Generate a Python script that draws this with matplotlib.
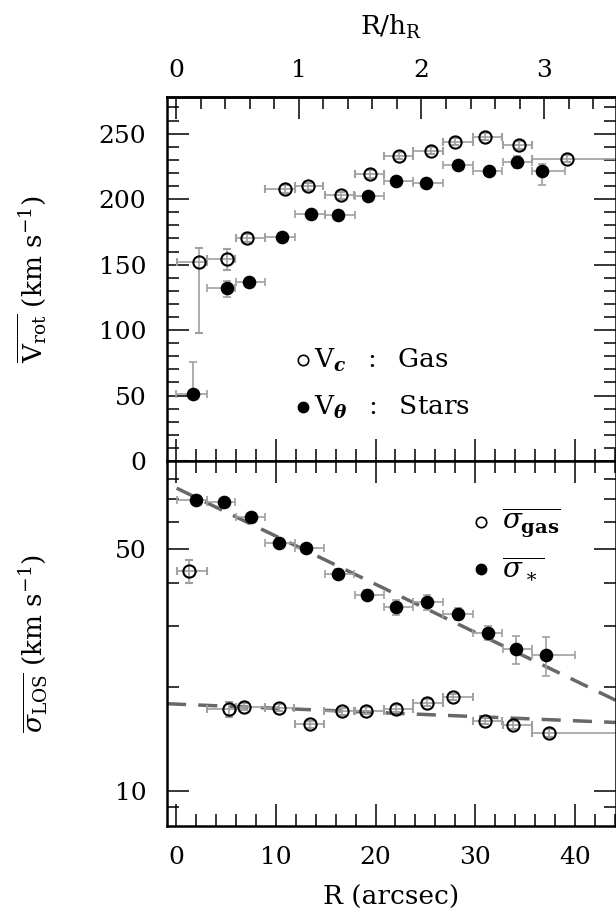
## rotation curve + LOS dispersion, two stacked panels
import matplotlib
matplotlib.use('Agg')
import matplotlib.pyplot as plt
from matplotlib.ticker import FixedLocator, MultipleLocator, NullFormatter, FixedFormatter
import numpy as np

plt.rcParams.update({'font.family': 'DejaVu Serif', 'font.size': 18,
                     'mathtext.fontset': 'custom',
                     'mathtext.rm': 'DejaVu Serif',
                     'mathtext.it': 'DejaVu Serif:italic',
                     'mathtext.bf': 'DejaVu Serif:italic:bold',
                     'mathtext.sf': 'DejaVu Serif:bold'})

h_R = 12.3  # arcsec per disc scale length

# --- top panel: gas circular velocity ---
gas_r = [2.34, 5.15, 7.09, 10.93, 13.27, 16.5, 19.4, 22.37, 25.58, 28.0, 30.93, 34.33, 39.2]
gas_v = [151.7, 154, 170, 207.6, 209.7, 202.8, 219, 233.3, 237.1, 244, 247.8, 241.4, 231]
gas_rlo = [0.07, 3.08, 6.02, 8.9, 11.9, 14.9, 17.9, 20.86, 23.8, 26.8, 29.76, 32.77, 35.67]
gas_rhi = [3.07, 5.92, 8.9, 11.9, 14.77, 17.8, 20.8, 23.8, 26.8, 29.76, 32.67, 35.67, 46]
gas_vlo = [54, 8, 3, 3, 3, 3, 3, 3, 3, 3, 3, 3, 3]
gas_vhi = [11, 8, 3, 3, 3, 3, 3, 3, 3, 3, 3, 3, 3]

# --- top panel: stellar rotation ---
st_r = [1.74, 5.08, 7.35, 10.6, 13.54, 16.28, 19.2, 22.1, 25.1, 28.28, 31.4, 34.17, 36.7]
st_v = [51.5, 132.5, 137, 171, 188.5, 188, 202.5, 213.5, 212, 226, 221.5, 228.5, 221.5]
st_rlo = [0.0, 3.07, 6.0, 8.9, 11.9, 14.9, 17.9, 20.86, 23.8, 26.8, 29.76, 32.77, 35.67]
st_rhi = [3.07, 5.9, 8.9, 11.9, 14.9, 17.9, 20.8, 23.8, 26.74, 29.76, 32.67, 35.67, 39.0]
st_vlo = [3, 7, 3, 3, 3, 3, 3, 3, 3, 3, 3, 4.5, 11]
st_vhi = [24, 5, 3, 3, 3, 3, 3, 3, 3, 3, 3, 4.5, 5]

# --- bottom panel: stellar dispersion ---
sst_r = [2.0, 4.8, 7.52, 10.3, 13.04, 16.2, 19.1, 22.1, 25.2, 28.25, 31.3, 34.1, 37.1]
sst_s = [69.5, 68.4, 61.9, 52.3, 50.4, 42.5, 36.9, 34.0, 35.2, 32.5, 28.7, 25.7, 24.7]
sst_rlo = [0.07, 3.07, 6.0, 8.9, 11.9, 14.9, 17.9, 20.86, 23.8, 26.8, 29.76, 32.77, 35.67]
sst_rhi = [3.07, 5.9, 8.9, 11.9, 14.8, 17.8, 20.8, 23.8, 26.75, 29.76, 32.67, 35.67, 39.95]
sst_err = [1.2, 1.5, 1.2, 1.3, 1.2, 1.3, 1.2, 1.7, 1.8, 1.3, 1.4, 2.4, 3.2]

# --- bottom panel: gas dispersion ---
sg_r = [1.3, 5.35, 6.82, 10.33, 13.44, 16.62, 19.06, 22.07, 25.2, 27.75, 30.93, 33.77, 37.4]
sg_s = [43.3, 17.26, 17.56, 17.45, 15.6, 17.0, 17.1, 17.3, 18.03, 18.7, 16.0, 15.57, 14.7]
sg_rlo = [0.07, 3.07, 6.0, 8.9, 11.9, 14.8, 17.9, 20.86, 23.8, 26.8, 29.76, 32.77, 35.67]
sg_rhi = [3.07, 5.9, 8.9, 11.8, 14.8, 17.8, 20.8, 23.8, 26.75, 29.76, 32.67, 35.67, 46]
sg_err = [3.3, 0.9, 0.4, 0.4, 0.4, 0.4, 0.4, 0.4, 0.4, 0.4, 0.4, 0.4, 0.4]

# exponential fits (straight on log axis), end points
fit_st_r = [0.07, 44.1]
fit_st_s = [75.1, 18.3]
fit_g_r = [-0.9, 44.1]
fit_g_s = [17.9, 15.8]


def xerrs(x, lo, hi):
    x = np.array(x)
    return [x - np.array(lo), np.array(hi) - x]


def style_ticks(ax):
    ax.tick_params(which='both', direction='in', width=1.1, right=True)
    ax.tick_params(which='major', length=16)
    ax.tick_params(which='minor', length=8.5)
    ax.tick_params(axis='y', which='major', pad=15)
    ax.tick_params(axis='x', which='major', pad=15)
    for sp in ax.spines.values():
        sp.set_linewidth(1.8)


ebar = dict(ls='none', ecolor='#a0a0a0', elinewidth=1.2, capsize=3, capthick=1.2)

fig = plt.figure(figsize=(6.16, 9.19), dpi=100)
ax1 = fig.add_axes([167 / 616, 1 - 461 / 919, 449 / 616, 364 / 919])
ax2 = fig.add_axes([167 / 616, 1 - 825.5 / 919, 449 / 616, 364.5 / 919], sharex=ax1)

ax1.errorbar(gas_r, gas_v, xerr=xerrs(gas_r, gas_rlo, gas_rhi), yerr=[gas_vlo, gas_vhi],
             marker='o', ms=8.8, mfc='none', mec='k', mew=1.5, **ebar)
ax1.errorbar(st_r, st_v, xerr=xerrs(st_r, st_rlo, st_rhi), yerr=[st_vlo, st_vhi],
             marker='o', ms=8.8, mfc='k', mec='k', **ebar)

ax1.set_xlim(-0.9, 44.1)
ax1.set_ylim(0, 278)
ax1.xaxis.set_major_locator(MultipleLocator(10))
ax1.xaxis.set_minor_locator(MultipleLocator(2))
ax1.yaxis.set_major_locator(MultipleLocator(50))
ax1.yaxis.set_minor_locator(MultipleLocator(10))
style_ticks(ax1)
ax1.tick_params(which='both', top=False, labelbottom=False)
ax1.set_ylabel(r'$\overline{\mathrm{V_{rot}}}$ (km s$^{-1}$)', fontsize=19)
ax1.yaxis.set_label_coords(-0.262, 0.5)

sec = ax1.secondary_xaxis('top', functions=(lambda x: x / h_R, lambda x: x * h_R))
sec.xaxis.set_major_locator(FixedLocator([0, 1, 2, 3]))
sec.xaxis.set_minor_locator(MultipleLocator(0.2))
sec.tick_params(which='both', direction='in', width=1.1)
sec.tick_params(which='major', length=16, pad=11)
sec.tick_params(which='minor', length=8.5)
sec.spines['top'].set_linewidth(1.8)
sec.set_xlabel(r'R/h$_\mathrm{R}$', fontsize=19, labelpad=17)

# top legend
tr = ax1.transAxes
ax1.plot([0.303], [0.277], 'o', ms=7.5, mfc='none', mec='k', mew=1.2, transform=tr)
ax1.plot([0.303], [0.1475], 'o', ms=7.5, mfc='k', mec='k', transform=tr)
ax1.text(0.327, 0.277, r'V$_\mathbf{c}$  $:$  Gas', transform=tr, fontsize=19, va='center')
ax1.text(0.327, 0.1475, r'V$_\mathbf{\theta}$  $:$  Stars', transform=tr, fontsize=19, va='center')

# bottom panel
ax2.set_yscale('log')
ax2.plot(fit_st_r, fit_st_s, color='#686868', lw=2.5, dashes=(5.5, 3.5), zorder=1)
ax2.plot(fit_g_r, fit_g_s, color='#686868', lw=2.5, dashes=(5.5, 3.5), zorder=1)
ax2.errorbar(sst_r, sst_s, xerr=xerrs(sst_r, sst_rlo, sst_rhi), yerr=sst_err,
             marker='o', ms=8.8, mfc='k', mec='k', **ebar)
ax2.errorbar(sg_r, sg_s, xerr=xerrs(sg_r, sg_rlo, sg_rhi), yerr=sg_err,
             marker='o', ms=8.8, mfc='none', mec='k', mew=1.5, **ebar)

ax2.set_ylim(7.96, 90)
ax2.yaxis.set_major_locator(FixedLocator([10, 50]))
ax2.yaxis.set_major_formatter(FixedFormatter(['10', '50']))
ax2.yaxis.set_minor_locator(FixedLocator([9, 20, 30, 40, 60, 70, 80]))
ax2.yaxis.set_minor_formatter(NullFormatter())
style_ticks(ax2)
ax2.tick_params(which='both', top=True)
ax2.set_xlabel('R (arcsec)', fontsize=19, labelpad=11)
ax2.set_ylabel(r'$\overline{\sigma_\mathrm{LOS}}$ (km s$^{-1}$)', fontsize=19)
ax2.yaxis.set_label_coords(-0.262, 0.5)

tr2 = ax2.transAxes
ax2.plot([0.699], [0.832], 'o', ms=7.5, mfc='none', mec='k', mew=1.2, transform=tr2)
ax2.plot([0.699], [0.704], 'o', ms=7.5, mfc='k', mec='k', transform=tr2)
ax2.text(0.745, 0.832, r'$\overline{\sigma_\mathsf{gas}}$', transform=tr2, fontsize=20, va='center')
ax2.text(0.745, 0.704, r'$\overline{\sigma_\ast}$', transform=tr2, fontsize=20, va='center')

fig.savefig('out.png', dpi=100)
